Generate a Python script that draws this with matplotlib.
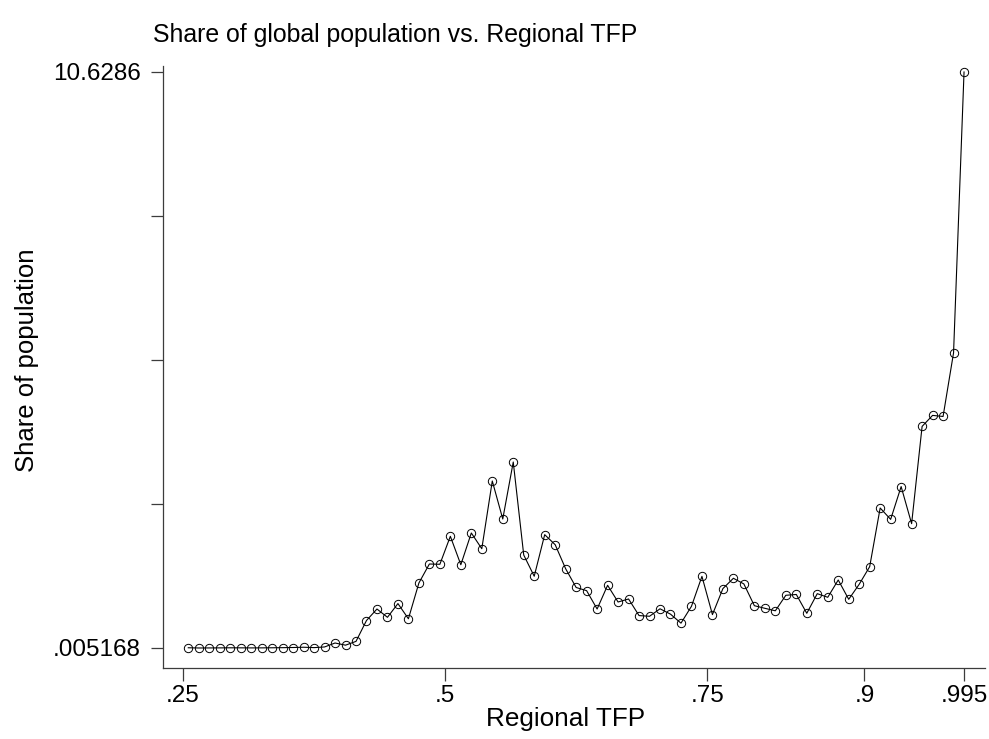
import matplotlib
matplotlib.use("Agg")
import matplotlib.pyplot as plt

# Regional TFP bins (midpoints) and share of global population (%)
tfp = [0.255, 0.265, 0.275, 0.285, 0.295, 0.305, 0.315, 0.325, 0.335, 0.345,
       0.355, 0.365, 0.375, 0.385, 0.395, 0.405, 0.415, 0.425, 0.435, 0.445,
       0.455, 0.465, 0.475, 0.485, 0.495, 0.505, 0.515, 0.525, 0.535, 0.545,
       0.555, 0.565, 0.575, 0.585, 0.595, 0.605, 0.615, 0.625, 0.635, 0.645,
       0.655, 0.665, 0.675, 0.685, 0.695, 0.705, 0.715, 0.725, 0.735, 0.745,
       0.755, 0.765, 0.775, 0.785, 0.795, 0.805, 0.815, 0.825, 0.835, 0.845,
       0.855, 0.865, 0.875, 0.885, 0.895, 0.905, 0.915, 0.925, 0.935, 0.945,
       0.955, 0.965, 0.975, 0.985, 0.995]
share = [0.0094, 0.005168, 0.0061, 0.0070, 0.0085, 0.0078, 0.0066, 0.0073, 0.0090, 0.011,
         0.014, 0.019, 0.012, 0.024, 0.097, 0.057, 0.127, 0.512, 0.724, 0.571,
         0.824, 0.544, 1.204, 1.554, 1.549, 2.065, 1.541, 2.126, 1.836, 3.085,
         2.384, 3.435, 1.720, 1.328, 2.095, 1.910, 1.466, 1.121, 1.062, 0.724,
         1.161, 0.853, 0.909, 0.603, 0.590, 0.728, 0.629, 0.463, 0.774, 1.326,
         0.621, 1.101, 1.291, 1.186, 0.785, 0.737, 0.691, 0.977, 0.992, 0.645,
         1.007, 0.940, 1.259, 0.903, 1.180, 1.505, 2.587, 2.377, 2.982, 2.298,
         4.092, 4.295, 4.275, 5.448, 10.6286]

xticks = [0.25, 0.5, 0.75, 0.9, 0.995]
xticklabels = [".25", ".5", ".75", ".9", ".995"]
ymin, ymax = 0.005168, 10.6286
yticklabels = [".005168", "", "", "", "10.6286"]

plt.rcParams["font.family"] = ["Liberation Sans", "DejaVu Sans"]
AX = "#3c3c3c"

fig = plt.figure(figsize=(9.89, 7.39), dpi=100)
ax = fig.add_axes([163 / 989, 1 - 668 / 739, (985 - 163) / 989, (668 - 66) / 739])

ax.plot(tfp, share, color="black", lw=0.8, marker="o", ms=6, mfc="none",
        mec="black", mew=0.7)

ax.set_xlim(0.2309, 1.015)
ax.set_ylim(-0.364, 10.739)

ax.set_xticks(xticks)
ax.set_xticklabels(xticklabels)
step = (ymax - ymin) / 4
ax.set_yticks([ymin + k * step for k in range(5)])
ax.set_yticklabels(yticklabels)

for s in ("top", "right"):
    ax.spines[s].set_visible(False)
for s in ("left", "bottom"):
    ax.spines[s].set_color(AX)
    ax.spines[s].set_linewidth(0.9)
ax.tick_params(axis="both", length=9, width=0.9, color=AX, labelsize=17.5)
ax.tick_params(axis="y", pad=7)
ax.tick_params(axis="x", pad=3)

fig.text(153 / 989, 1 - 35 / 739, "Share of global population vs. Regional TFP",
         ha="left", va="center", fontsize=17.9)
fig.text(566 / 989, 1 - 719 / 739, "Regional TFP", ha="center", va="center", fontsize=18.8)
fig.text(27 / 989, 1 - 360 / 739, "Share of population", ha="center", va="center",
         rotation=90, fontsize=18.5)

fig.savefig("out.png", dpi=100)
